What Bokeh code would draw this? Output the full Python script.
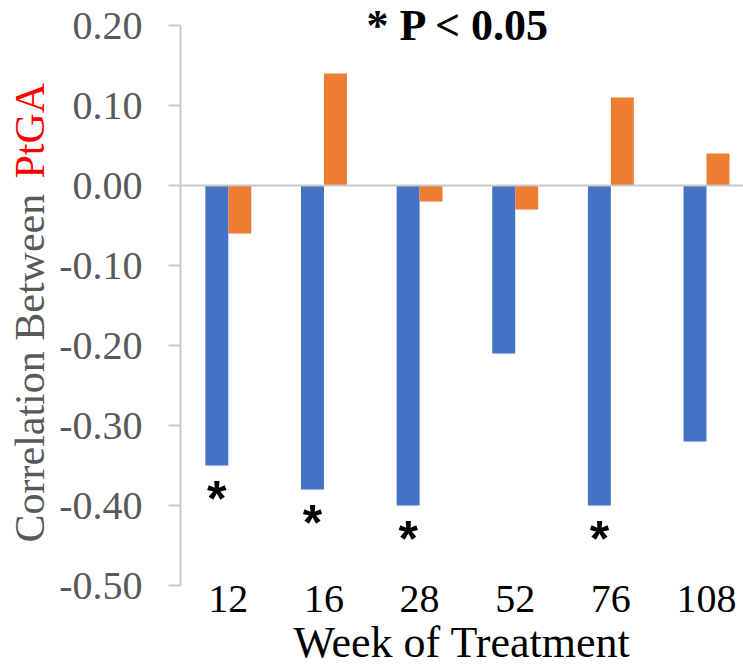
import math
from bokeh.plotting import figure
from bokeh.models import (Range1d, FixedTicker, NumeralTickFormatter, Span, Label,
                          ColumnDataSource, Title)
from bokeh.transform import dodge
from bokeh.core.properties import value
from bokeh.embed import file_html
from bokeh.resources import INLINE

# ---- data ----
weeks = ["12", "16", "28", "52", "76", "108"]
blue_vals = [-0.35, -0.38, -0.40, -0.21, -0.40, -0.32]
orange_vals = [-0.06, 0.14, -0.02, -0.03, 0.11, 0.04]
significant = [True, True, True, False, True, False]
y_ticks = [-0.5, -0.4, -0.3, -0.2, -0.1, 0.0, 0.1, 0.2]

BLUE = "#4472C4"
ORANGE = "#ED7D31"
GRAY = "#595959"
AXIS = "#C9C9C9"
FONT = "Liberation Serif"

xs = [i + 0.5 for i in range(len(weeks))]
src = ColumnDataSource(dict(x=xs, blue=blue_vals, orange=orange_vals))
star_src = ColumnDataSource(dict(
    x=[x for x, s in zip(xs, significant) if s],
    y=[v for v, s in zip(blue_vals, significant) if s],
    t=["*" for s in significant if s],
))

# frame covers the canvas except the left margin (800 px per unit on y)
p = figure(width=743, height=672, output_backend="svg", toolbar_location=None,
           x_range=Range1d(0, 5.887), y_range=Range1d(-0.60875, 0.23125),
           min_border_left=179, min_border_right=0, min_border_top=0, min_border_bottom=0)
p.outline_line_color = None
p.xgrid.visible = False
p.ygrid.visible = False
p.background_fill_color = "white"
p.border_fill_color = "white"

p.add_layout(Span(location=0, dimension="width", line_color=AXIS, line_width=2))

p.vbar(x=dodge("x", -0.12, range=p.x_range), top="blue", bottom=0, width=0.24,
       source=src, fill_color=BLUE, line_color=None)
p.vbar(x=dodge("x", 0.12, range=p.x_range), top="orange", bottom=0, width=0.24,
       source=src, fill_color=ORANGE, line_color=None)

p.text(x=dodge("x", -0.12, range=p.x_range), y=dodge("y", -0.042, range=p.y_range), text="t",
       source=star_src, text_font=value("Liberation Sans"), text_font_size="50px",
       text_font_style="bold", text_color="black",
       text_align="center", text_baseline="alphabetic")

# main y axis
ya = p.yaxis[0]
ya.bounds = (-0.5, 0.2)
ya.ticker = FixedTicker(ticks=y_ticks)
ya.formatter = NumeralTickFormatter(format="0.00")
ya.axis_line_color = AXIS
ya.axis_line_width = 2
ya.major_tick_line_color = AXIS
ya.major_tick_line_width = 2
ya.major_tick_out = 12
ya.major_tick_in = 0
ya.minor_tick_line_color = None
ya.major_label_text_font = FONT
ya.major_label_text_font_size = "40px"
ya.major_label_text_color = GRAY
ya.major_label_standoff = 26

# x axis: anchored below the -0.50 level, labels pulled back up by the standoff
xa = p.xaxis[0]
xa.fixed_location = -0.6625
xa.ticker = FixedTicker(ticks=xs)
xa.major_label_overrides = {x: w for x, w in zip(xs, weeks)}
xa.axis_line_color = None
xa.major_tick_line_color = None
xa.minor_tick_line_color = None
xa.major_tick_out = 0
xa.major_tick_in = 0
xa.major_label_text_font = FONT
xa.major_label_text_font_size = "40px"
xa.major_label_text_color = "black"
xa.major_label_standoff = -130
xa.axis_label = "Week of Treatment"
xa.axis_label_text_font = FONT
xa.axis_label_text_font_size = "44px"
xa.axis_label_text_font_style = "normal"
xa.axis_label_text_color = "black"
xa.axis_label_standoff = 26

# y axis title in two colours (two titles in the left panel, drawn in one column)
p.add_layout(Title(text="Correlation Between", align="left", vertical_align="bottom",
                   offset=130, standoff=8, text_font=FONT, text_font_size="42px",
                   text_font_style="normal", text_color=GRAY), "left")
p.add_layout(Title(text="PtGA", align="left", vertical_align="bottom",
                   offset=494, standoff=-105, text_font=FONT, text_font_size="42px",
                   text_font_style="normal", text_color="red"), "left")

# chart title
p.add_layout(Label(x=278, y=647, x_units="screen", y_units="screen", text="* P < 0.05",
                   text_font=FONT, text_font_size="44px", text_font_style="bold",
                   text_color="black", text_align="center", text_baseline="alphabetic"))

open("out.html", "w").write(file_html(p, INLINE))
